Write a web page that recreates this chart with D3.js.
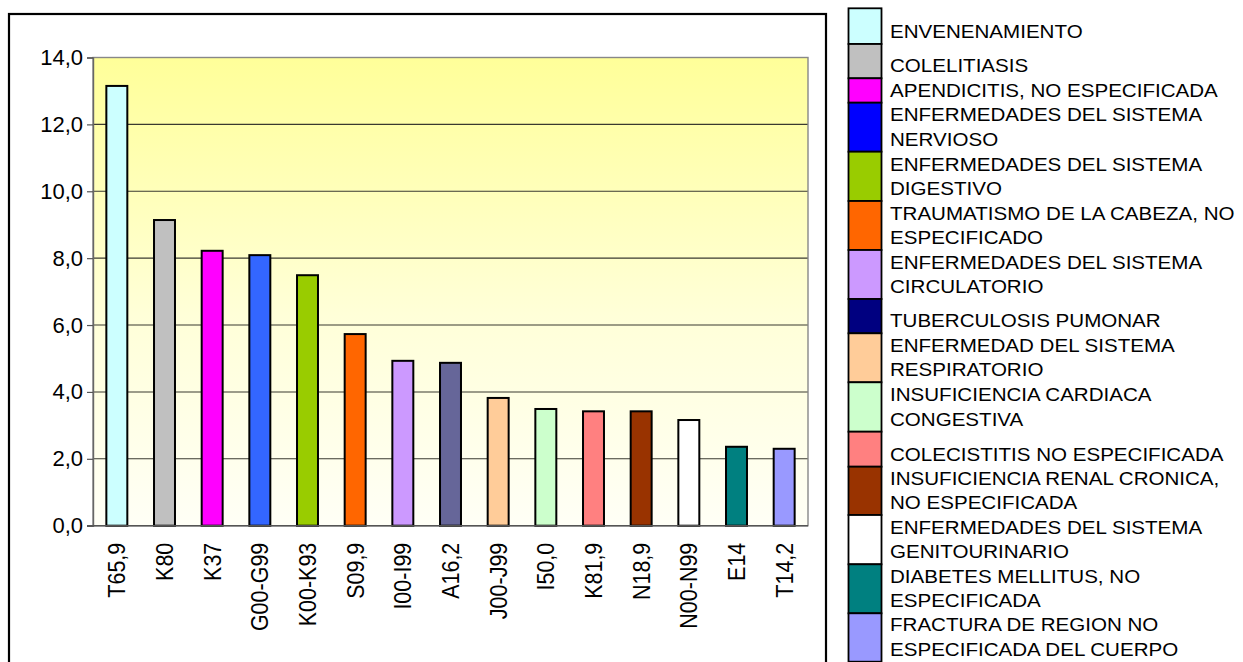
<!DOCTYPE html>
<html>
<head>
<meta charset="utf-8">
<script src="https://cdn.jsdelivr.net/npm/d3@7"></script>
<style>
  html, body { margin: 0; padding: 0; background: #fff; }
  svg { display: block; font-family: "Liberation Sans", Arial, sans-serif; }
</style>
</head>
<body>
<svg id="chart" width="1243" height="662"></svg>
<script>
// Diagnosis codes on the x axis
const categories = ["T65,9", "K80", "K37", "G00-G99", "K00-K93", "S09,9", "I00-I99",
  "A16,2", "J00-J99", "I50,0", "K81,9", "N18,9", "N00-N99", "E14", "T14,2"];

// Rate per diagnosis
const values = [13.15, 9.14, 8.22, 8.09, 7.49, 5.73, 4.93, 4.87, 3.82, 3.49, 3.42, 3.42, 3.16, 2.36, 2.30];

// Bar fills
const barColors = ["#CCFFFF", "#C0C0C0", "#FF00FF", "#3366FF", "#99CC00", "#FF6600", "#CC99FF",
  "#666699", "#FFCC99", "#CCFFCC", "#FF8080", "#993300", "#FFFFFF", "#008080", "#9999FF"];

// Y axis ticks
const yTicks = [0, 2, 4, 6, 8, 10, 12, 14];

// Legend entries (one array of text lines per entry) and their key colours
const legendLabels = [
  ["ENVENENAMIENTO"],
  ["COLELITIASIS"],
  ["APENDICITIS, NO ESPECIFICADA"],
  ["ENFERMEDADES DEL SISTEMA", "NERVIOSO"],
  ["ENFERMEDADES DEL SISTEMA", "DIGESTIVO"],
  ["TRAUMATISMO DE LA CABEZA, NO", "ESPECIFICADO"],
  ["ENFERMEDADES DEL SISTEMA", "CIRCULATORIO"],
  ["TUBERCULOSIS PUMONAR"],
  ["ENFERMEDAD DEL SISTEMA", "RESPIRATORIO"],
  ["INSUFICIENCIA CARDIACA", "CONGESTIVA"],
  ["COLECISTITIS NO ESPECIFICADA"],
  ["INSUFICIENCIA RENAL CRONICA,", "NO ESPECIFICADA"],
  ["ENFERMEDADES DEL SISTEMA", "GENITOURINARIO"],
  ["DIABETES MELLITUS, NO", "ESPECIFICADA"],
  ["FRACTURA DE REGION NO", "ESPECIFICADA DEL CUERPO"]
];
const legendColors = ["#CCFFFF", "#C0C0C0", "#FF00FF", "#0000FF", "#99CC00", "#FF6600", "#CC99FF",
  "#000080", "#FFCC99", "#CCFFCC", "#FF8080", "#993300", "#FFFFFF", "#008080", "#9999FF"];

// ---- layout ----
const plot = { left: 93, right: 808, top: 57.5, bottom: 525.7 };
const legendRowHeights = [35.7, 34.3, 24.4, 49, 49.3, 49, 49, 34.3, 49, 49.4, 35, 48.3, 49.3, 49, 48.4];
const legendTop = 8.3, keyLeft = 848.5, keyRight = 881.5, textLeft = 890;
const fontFamily = "'Liberation Sans', Arial, sans-serif";

const svg = d3.select("#chart");

// chart frame
svg.append("rect")
  .attr("x", 9).attr("y", 14)
  .attr("width", 817).attr("height", 700)
  .attr("fill", "#fff").attr("stroke", "#000").attr("stroke-width", 2.2);

// plot background gradient
const defs = svg.append("defs");
const grad = defs.append("linearGradient").attr("id", "plotBg")
  .attr("x1", 0).attr("y1", 0).attr("x2", 0).attr("y2", 1);
grad.append("stop").attr("offset", "0%").attr("stop-color", "#FFFF99");
grad.append("stop").attr("offset", "55%").attr("stop-color", "#FFFFD8");
grad.append("stop").attr("offset", "100%").attr("stop-color", "#FFFFF6");

const x = d3.scaleBand()
  .domain(categories)
  .range([plot.left, plot.right])
  .paddingInner(0.56)
  .paddingOuter(0.28);

const y = d3.scaleLinear()
  .domain([0, 14])
  .range([plot.bottom, plot.top]);

svg.append("rect")
  .attr("x", plot.left).attr("y", plot.top)
  .attr("width", plot.right - plot.left).attr("height", plot.bottom - plot.top)
  .attr("fill", "url(#plotBg)");

// gridlines
svg.append("g")
  .selectAll("line")
  .data(yTicks.filter(t => t > 0 && t < 14))
  .join("line")
  .attr("x1", plot.left).attr("x2", plot.right)
  .attr("y1", d => y(d)).attr("y2", d => y(d))
  .attr("stroke", "#3a3a30").attr("stroke-width", 1.1);

// plot border
svg.append("rect")
  .attr("x", plot.left).attr("y", plot.top)
  .attr("width", plot.right - plot.left).attr("height", plot.bottom - plot.top)
  .attr("fill", "none").attr("stroke", "#888").attr("stroke-width", 1.4);

// y axis
const yAxis = d3.axisLeft(y)
  .tickValues(yTicks)
  .tickSize(6)
  .tickPadding(4)
  .tickFormat(d => d3.format(".1f")(d).replace(".", ","));
const gy = svg.append("g").attr("transform", `translate(${plot.left},0)`).call(yAxis);
gy.attr("font-family", null).attr("font-size", null);
gy.select(".domain").attr("stroke", "#666").attr("stroke-width", 1.4);
gy.selectAll(".tick line").attr("stroke", "#555").attr("stroke-width", 1.2);
gy.selectAll(".tick text")
  .attr("fill", "#000")
  .style("font-size", "22px")
  .style("font-family", fontFamily);

// bars
svg.append("g")
  .selectAll("rect")
  .data(categories.map((c, i) => ({ c, v: values[i], col: barColors[i] })))
  .join("rect")
  .attr("x", d => x(d.c))
  .attr("y", d => y(d.v))
  .attr("width", x.bandwidth())
  .attr("height", d => y(0) - y(d.v))
  .attr("fill", d => d.col)
  .attr("stroke", "#000")
  .attr("stroke-width", 2);

// x axis baseline
svg.append("line")
  .attr("x1", plot.left - 6).attr("x2", plot.right)
  .attr("y1", plot.bottom).attr("y2", plot.bottom)
  .attr("stroke", "#555").attr("stroke-width", 1.6);

// x labels, rotated
const xAxis = d3.axisBottom(x).tickSize(0).tickPadding(0);
const gx = svg.append("g").attr("transform", `translate(0,${plot.bottom})`).call(xAxis);
gx.attr("font-family", null).attr("font-size", null);
gx.select(".domain").remove();
gx.selectAll(".tick text")
  .attr("fill", "#000")
  .attr("text-anchor", "end")
  .attr("y", 0).attr("dy", 0)
  .attr("transform", "translate(0,17) rotate(-90) scale(1,1.15)")
  .attr("x", 0)
  .attr("dominant-baseline", "central")
  .style("font-size", "21.5px")
  .style("font-family", fontFamily);

// legend
const rowTops = [];
legendRowHeights.reduce((acc, h) => { rowTops.push(acc); return acc + h; }, legendTop);
const legend = svg.append("g");
const rows = legend.selectAll("g")
  .data(legendLabels.map((lines, i) => ({ lines, col: legendColors[i], top: rowTops[i], h: legendRowHeights[i] })))
  .join("g");

rows.append("rect")
  .attr("x", keyLeft).attr("y", d => d.top)
  .attr("width", keyRight - keyLeft).attr("height", d => d.h)
  .attr("fill", d => d.col)
  .attr("stroke", "#000").attr("stroke-width", 1.8);

rows.each(function (d) {
  const g = d3.select(this);
  const bottom = d.top + d.h;
  const n = d.lines.length;
  d.lines.forEach((line, j) => {
    const baseline = bottom - 6 - (n - 1 - j) * 24.4;
    g.append("text")
      .attr("transform", `translate(${textLeft},${baseline}) scale(1.1,1)`)
      .attr("fill", "#000")
      .style("font-size", "18.7px")
      .style("font-family", fontFamily)
      .text(line);
  });
});
</script>
</body>
</html>
